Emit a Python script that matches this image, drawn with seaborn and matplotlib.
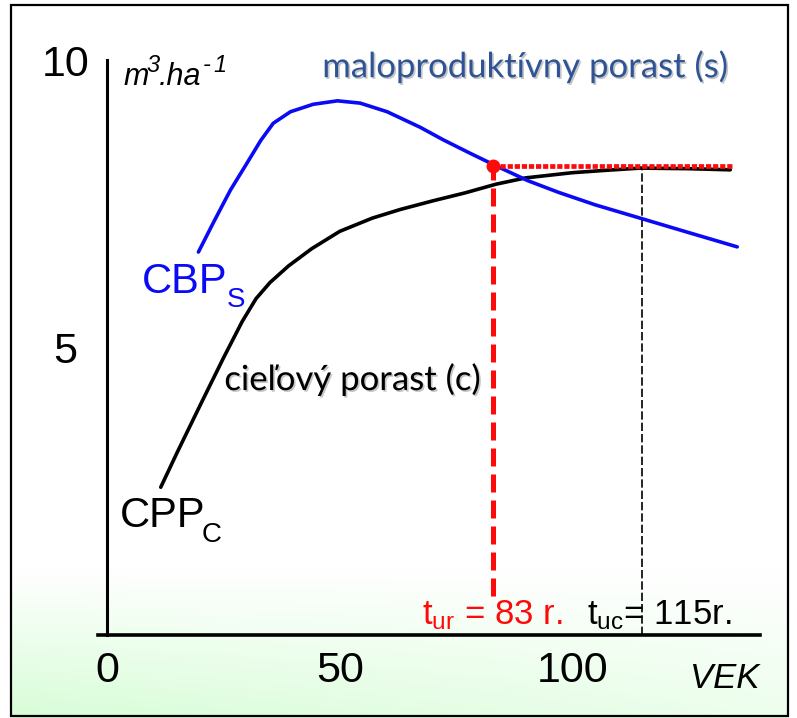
import numpy as np
import pandas as pd
import matplotlib
matplotlib.use("Agg")
import matplotlib.pyplot as plt
import matplotlib.patheffects as pe
from matplotlib.patches import Rectangle
import seaborn as sns

# ---- data ----
cbp_age = [19.6, 23, 26.5, 30, 33, 35.7, 39.4, 44.3, 49.5, 54.4, 60.2, 67.3, 72.3,
           78, 83.6, 90.5, 97, 105, 114.6, 125, 135.5]
cbp_vol = [6.66, 7.2, 7.74, 8.2, 8.6, 8.90, 9.10, 9.23, 9.29, 9.25, 9.10, 8.83, 8.61,
           8.38, 8.16, 7.90, 7.70, 7.48, 7.25, 7.0, 6.75]
cpp_age = [11.5, 15, 20, 25, 29, 32, 35, 39, 44, 50, 57, 63, 70, 77, 83.6,
           90, 100, 107, 114.6, 125, 134]
cpp_vol = [2.57, 3.17, 4.0, 4.82, 5.45, 5.85, 6.13, 6.42, 6.72, 7.02, 7.25, 7.40,
           7.55, 7.69, 7.84, 7.95, 8.04, 8.08, 8.12, 8.11, 8.09]
t_ur, v_ur = 83, 8.16
t_uc, v_uc = 115, 8.12
hline_end = 134.4
x_ticks = list(range(0, 140, 10))
x_ticklabels = ["0", "", "", "", "", "50", "", "", "", "", "100", "", "", ""]
y_ticks = list(range(0, 11))
y_ticklabels = ["", "", "", "", "", "5", "", "", "", "", "10"]

sns.set_theme(style="white")
plt.rcParams["font.family"] = ["Liberation Sans", "DejaVu Sans"]
plt.rcParams["mathtext.fontset"] = "custom"
plt.rcParams["mathtext.rm"] = "Liberation Sans"
plt.rcParams["mathtext.it"] = "Liberation Sans:italic"
plt.rcParams["mathtext.bf"] = "Liberation Sans:bold"

W, H = 797, 718
fig = plt.figure(figsize=(W / 100, H / 100), dpi=100)
fig.patch.set_facecolor("white")

# background with green gradient at the bottom
bg = fig.add_axes([0, 0, 1, 1], zorder=-10)
img = np.ones((H, W, 3))
yy = np.arange(H)[:, None]
xx = np.arange(W)[None, :]
t = np.clip((yy - 570) / (716 - 570), 0, 1)
a = t * (1 - 0.55 * xx / W)
green = np.array([215, 253, 215]) / 255.0
img = img * (1 - a[..., None]) + green[None, None, :] * a[..., None]
img[:, :11, :] = 1.0
img[:, 789:, :] = 1.0
bg.imshow(img, aspect="auto", extent=[0, 1, 0, 1])
bg.set_axis_off()
fig.patches.append(Rectangle((11 / W, 2 / H), (788 - 11) / W, (711 - 0) / H, fill=False,
                             lw=1.6, edgecolor="black", transform=fig.transFigure, zorder=5))

ax = fig.add_axes([98 / W, 83 / H, 662 / W, 603.75 / H])
ax.patch.set_alpha(0)

df_s = pd.DataFrame({"age": cbp_age, "vol": cbp_vol})
df_c = pd.DataFrame({"age": cpp_age, "vol": cpp_vol})

# dashed verticals and dotted horizontal
ax.plot([t_uc, t_uc], [0, v_uc], color="black", lw=1.2, linestyle=(0, (5, 1.8)), zorder=2)
sns.lineplot(data=df_c, x="age", y="vol", color="black", lw=2.6, sort=False,
             estimator=None, ax=ax, zorder=3)
sns.lineplot(data=df_s, x="age", y="vol", color="#0A0AF5", lw=2.6, sort=False,
             estimator=None, ax=ax, zorder=4)
ax.plot([t_ur, t_ur], [0.68, v_ur], color="#FF0A0A", lw=3.6, linestyle=(0, (3.6, 1.6)), zorder=5)
ax.plot([t_ur, hline_end], [v_ur, v_ur], color="#FF0A0A", lw=3.4, linestyle=(0, (1.1, 0.4)), zorder=5)
ax.plot([t_ur], [v_ur], marker="o", ms=9, color="#FF0A0A", zorder=6)

ax.set_xlim(-2, 140.4)
ax.set_ylim(0, 10.5)
ax.set_xlabel("")
ax.set_ylabel("")
for s in ["top", "right"]:
    ax.spines[s].set_visible(False)
ax.spines["left"].set_position(("data", 0))
ax.spines["left"].set_bounds(0, 10)
ax.spines["left"].set_linewidth(2.2)
ax.spines["bottom"].set_linewidth(2.6)
ax.spines["left"].set_color("black")
ax.spines["bottom"].set_color("black")

ax.set_xticks(x_ticks)
ax.set_xticklabels(x_ticklabels, fontsize=31, fontfamily="Liberation Sans")
ax.set_yticks(y_ticks)
ax.set_yticklabels(y_ticklabels, fontsize=31, fontfamily="Liberation Sans")
ax.tick_params(axis="x", direction="out", length=4.5, width=2.2, pad=7, colors="black")
ax.tick_params(axis="y", direction="out", length=3, width=2.0, pad=27, colors="black")
for lab in ax.get_yticklabels():
    lab.set_horizontalalignment("center")

shadow = [pe.SimplePatchShadow(offset=(1.2, -1.2), shadow_rgbFace="gray", alpha=0.45), pe.Normal()]

# unit label m3.ha-1 (italic, with raised small numbers)
ax.text(3.44, 9.57, "m", fontsize=22, style="italic", color="black", va="baseline", ha="left")
ax.text(8.5, 9.80, "3", fontsize=17, style="italic", color="black", va="baseline", ha="left")
ax.text(11.0, 9.57, ".ha", fontsize=22, style="italic", color="black", va="baseline", ha="left")
ax.text(20.6, 9.80, "-", fontsize=17, style="italic", color="black", va="baseline", ha="left")
ax.text(22.8, 9.80, "1", fontsize=17, style="italic", color="black", va="baseline", ha="left")

ax.text(90.0, 9.70, "maloproduktívny porast (s)", fontsize=25, color="#2F5496",
        fontfamily="Lato", va="baseline", ha="center", path_effects=shadow)
ax.text(52.8, 4.26, "cieľový porast (c)", fontsize=25, color="black",
        fontfamily="Lato", va="baseline", ha="center", path_effects=shadow)
ax.text(7.5, 5.95, "CBP", fontsize=30, color="#0A0AF5", va="baseline", ha="left")
ax.text(25.6, 5.70, "S", fontsize=20, color="#0A0AF5", va="baseline", ha="left")
ax.text(2.6, 1.88, "CPP", fontsize=30, color="black", va="baseline", ha="left")
ax.text(20.3, 1.62, "C", fontsize=20, color="black", va="baseline", ha="left")
ax.text(82.9, 0.19, r"t$_\mathrm{ur}$ = 83 r.", fontsize=25, color="#FF0A0A",
        va="baseline", ha="center")
ax.text(118.8, 0.19, r"t$_\mathrm{uc}$= 115r.", fontsize=25, color="black",
        va="baseline", ha="center")
ax.text(132.8, -0.92, "VEK", fontsize=25, style="italic", color="black",
        va="baseline", ha="center")

fig.savefig("out.png", dpi=100)
